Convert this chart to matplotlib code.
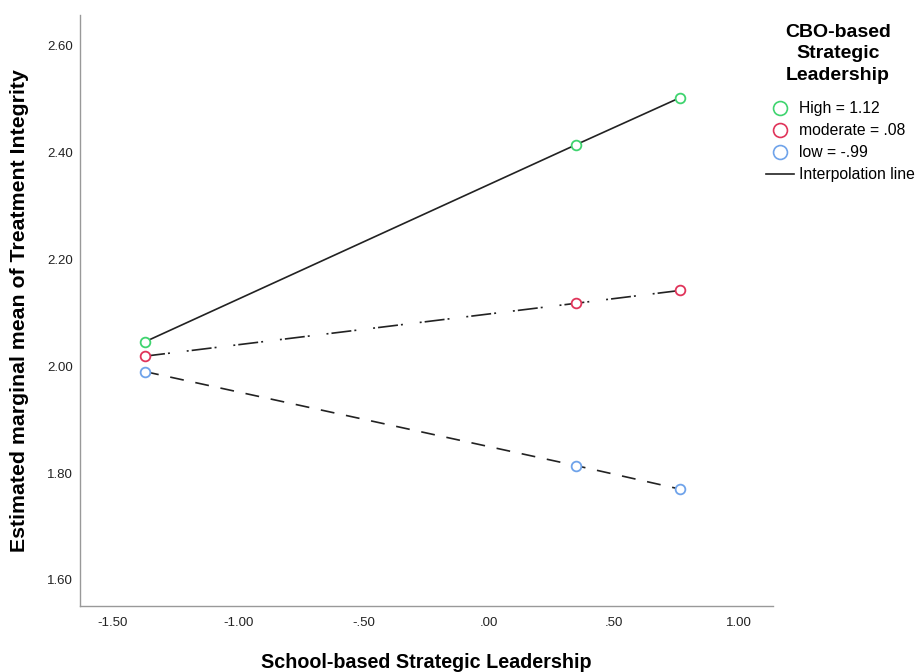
import matplotlib
matplotlib.use("Agg")
import matplotlib.pyplot as plt
from matplotlib.lines import Line2D

plt.rcParams['font.family'] = ['Liberation Sans', 'DejaVu Sans']
plt.rcParams['lines.scale_dashes'] = False

x_values = [-1.372, 0.349, 0.764]
high = [2.046, 2.415, 2.503]
moderate = [2.019, 2.118, 2.142]
low = [1.990, 1.814, 1.770]
series_labels = ["High = 1.12", "moderate = .08", "low = -.99"]
series_colors = ["#3fd46f", "#e0345a", "#6fa3ea"]
xticks = [-1.5, -1.0, -0.5, 0.0, 0.5, 1.0]
xtick_labels = ["-1.50", "-1.00", "-.50", ".00", ".50", "1.00"]
yticks = [1.6, 1.8, 2.0, 2.2, 2.4, 2.6]
ytick_labels = ["1.60", "1.80", "2.00", "2.20", "2.40", "2.60"]
legend_title = "CBO-based\nStrategic\nLeadership"

fig = plt.figure(figsize=(9.19, 6.72), dpi=100)
ax = fig.add_axes([80/919, 66/672, (773-80)/919, (606-15)/672])

styles = ['-', (0, (14.4, 2.2, 1.4, 12.2, 1.4, 2.2)), (0, (10, 8.5))]
for ys, col, ls in zip([high, moderate, low], series_colors, styles):
    ax.plot(x_values, ys, color='#222222', lw=1.2, linestyle=ls, zorder=2)
    ax.plot(x_values, ys, linestyle='none', marker='o', markersize=7,
            markerfacecolor='white', markeredgecolor=col, markeredgewidth=1.3, zorder=3)

ax.set_xlim(-1.632, 1.136)
ax.set_ylim(1.551, 2.658)
ax.set_xticks(xticks)
ax.set_xticklabels(xtick_labels)
ax.set_yticks(yticks)
ax.set_yticklabels(ytick_labels)
ax.tick_params(length=0, labelsize=9.5, colors='#222222')
ax.tick_params(axis='x', pad=8)
ax.tick_params(axis='y', pad=5)
for s in ['top', 'right']:
    ax.spines[s].set_visible(False)
for s in ['left', 'bottom']:
    ax.spines[s].set_color('#999999')
    ax.spines[s].set_linewidth(1.0)

fig.text(20/919, 1 - 311/672, "Estimated marginal mean of Treatment Integrity",
         rotation=90, ha='center', va='center', fontsize=15.3, fontweight='bold')
fig.text(426.5/919, 1 - 662/672, "School-based Strategic Leadership",
         ha='center', va='center', fontsize=14.2, fontweight='bold')

fig.text(838/919, 1 - 54/672, legend_title, ha='center', va='center',
         multialignment='center', fontsize=14, fontweight='bold', linespacing=1.32)

handles = [Line2D([], [], linestyle='none', marker='o', markersize=10,
                  markerfacecolor='white', markeredgecolor=c, markeredgewidth=1.2)
           for c in series_colors]
handles.append(Line2D([], [], color='#222222', lw=1.2))
labels = series_labels + ["Interpolation line"]
leg = fig.legend(handles, labels, loc='upper left', bbox_to_anchor=(766/919, 1 - 101/672),
                 frameon=False, fontsize=11.3,
                 handlelength=1.8, handletextpad=0.3, labelspacing=0.45,
                 borderaxespad=0, borderpad=0)

fig.savefig("out.png", dpi=100)
